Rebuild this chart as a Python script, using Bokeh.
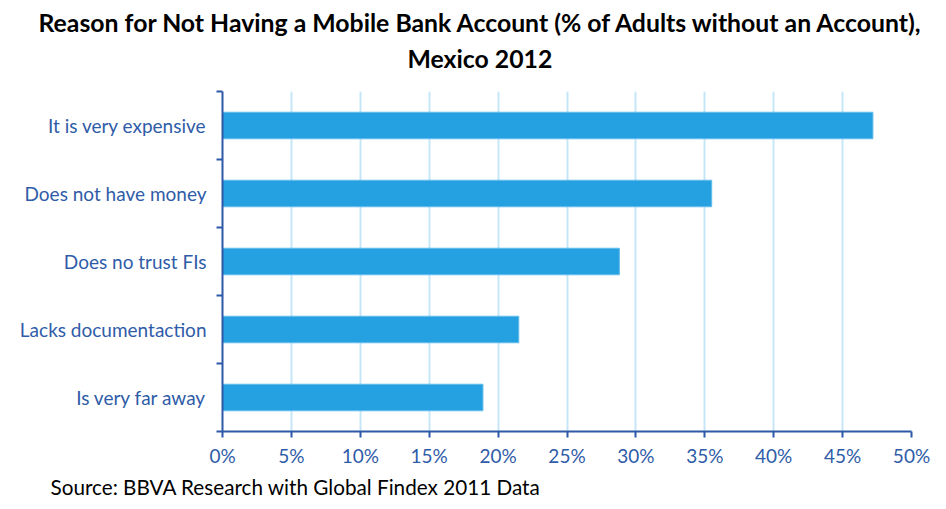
from bokeh.plotting import figure
from bokeh.models import FixedTicker, Title, Range1d, ColumnDataSource
from bokeh.embed import file_html
from bokeh.resources import INLINE

# ---- data ----
categories = ["It is very expensive", "Does not have money", "Does no trust FIs",
              "Lacks documentaction", "Is very far away"]
values = [47.2, 35.5, 28.8, 21.5, 18.9]
x_ticks = [0, 5, 10, 15, 20, 25, 30, 35, 40, 45, 50]
x_tick_labels = ["0%", "5%", "10%", "15%", "20%", "25%", "30%", "35%", "40%", "45%", "50%"]
title_line1 = "Reason for Not Having a Mobile Bank Account (% of Adults without an Account),"
title_line2 = "Mexico 2012"
source_note = "Source: BBVA Research with Global Findex 2011 Data"

n = len(categories)
ypos = [n - i - 0.5 for i in range(n)]
src = ColumnDataSource(dict(y=ypos, v=values, cat=categories))

AXIS = "#2E59A7"
LABEL = "#2F5CA8"
FONT = "Lato"

p = figure(width=938, height=501, output_backend="svg", toolbar_location=None,
           x_range=Range1d(0, 50), y_range=Range1d(0, n),
           min_border_left=222, min_border_right=27, min_border_top=91, min_border_bottom=69,
           background_fill_color="white", border_fill_color="white")
p.outline_line_color = None

p.hbar(y="y", right="v", left=0, height=0.39, source=src,
       fill_color="#25A0E0", line_color="#62BCEB", line_width=1)

# x axis
xt = FixedTicker(ticks=x_ticks, minor_ticks=[])
p.xaxis.ticker = xt
p.xaxis.major_label_overrides = {t: l for t, l in zip(x_ticks, x_tick_labels)}
p.xaxis.axis_line_color = AXIS
p.xaxis.axis_line_width = 2
p.xaxis.major_tick_line_color = AXIS
p.xaxis.major_tick_line_width = 2
p.xaxis.major_tick_out = 6
p.xaxis.major_tick_in = 0
p.xaxis.minor_tick_line_color = None
p.xaxis.major_label_text_color = LABEL
p.xaxis.major_label_text_font = FONT
p.xaxis.major_label_text_font_size = "19px"
p.xaxis.major_label_standoff = 6

# y axis
yt = FixedTicker(ticks=ypos, minor_ticks=[float(i) for i in range(n + 1)])
p.yaxis.ticker = yt
p.yaxis.major_label_overrides = {y: c for y, c in zip(ypos, categories)}
p.yaxis.axis_line_color = AXIS
p.yaxis.axis_line_width = 2
p.yaxis.major_tick_line_color = None
p.yaxis.major_tick_out = 0
p.yaxis.major_tick_in = 0
p.yaxis.minor_tick_line_color = AXIS
p.yaxis.minor_tick_line_width = 2
p.yaxis.minor_tick_out = 6
p.yaxis.minor_tick_in = 0
p.yaxis.major_label_text_color = LABEL
p.yaxis.major_label_text_font = FONT
p.yaxis.major_label_text_font_size = "19px"
p.yaxis.major_label_standoff = 10

# grid
p.xgrid.ticker = xt
p.xgrid.grid_line_color = "#C6E6F8"
p.xgrid.grid_line_width = 2
p.ygrid.grid_line_color = None

# titles (second line added first so it sits closest to the plot)
t2 = Title(text=title_line2, align="left", offset=185, text_font=FONT, vertical_align="top",
           text_font_style="bold", text_font_size="24.8px", text_color="black", standoff=33)
t1 = Title(text=title_line1, align="left", offset=-184, text_font=FONT, vertical_align="top",
           text_font_style="bold", text_font_size="24.8px", text_color="black", standoff=-40)
p.add_layout(t2, "above")
p.add_layout(t1, "above")

note = Title(text=source_note, align="left", offset=-172, text_font=FONT,
             text_font_style="normal", text_font_size="20.7px", text_color="black", standoff=6)
p.add_layout(note, "below")

open("out.html", "w").write(file_html(p, INLINE))
